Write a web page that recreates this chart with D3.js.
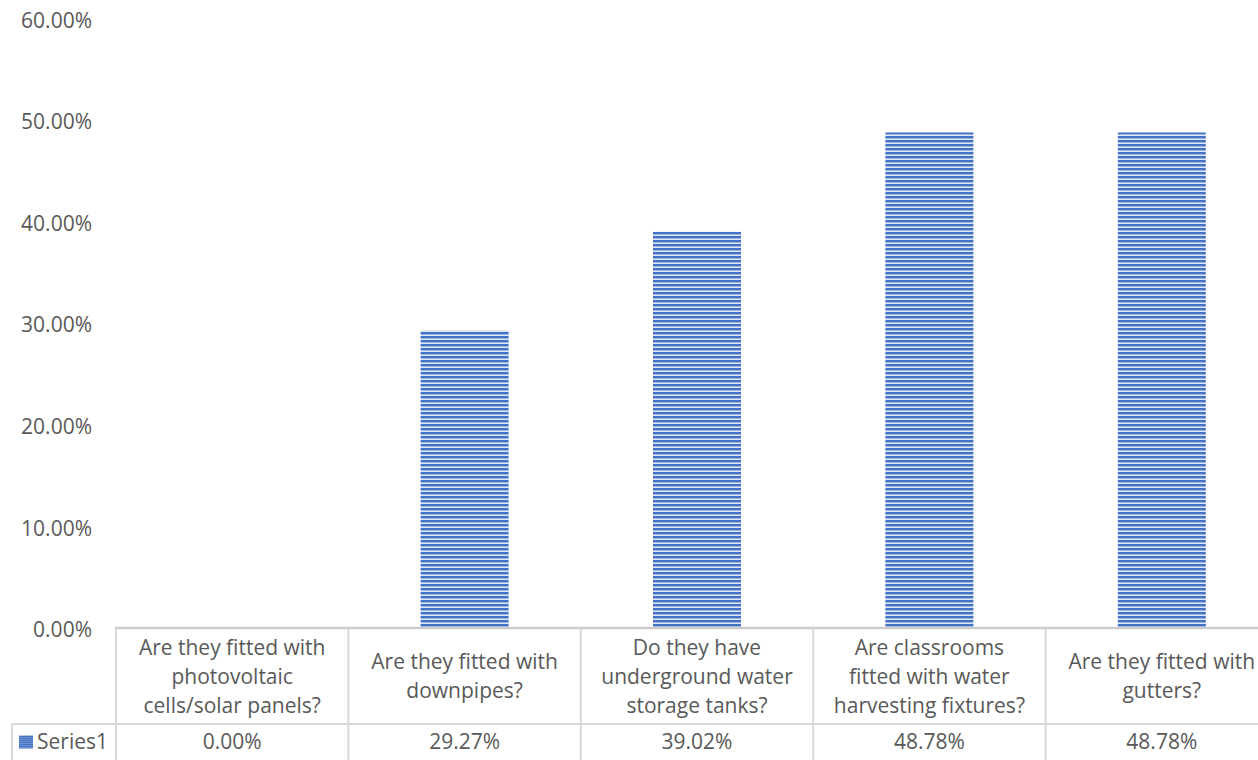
<!DOCTYPE html>
<html>
<head>
<meta charset="utf-8">
<script src="https://cdn.jsdelivr.net/npm/d3@7/dist/d3.min.js"></script>
<style>
  html, body { margin: 0; padding: 0; background: #ffffff; }
  svg { display: block; }
  text { font-family: "Open Sans", "Noto Sans", sans-serif; fill: #595959; }
</style>
</head>
<body>
<svg id="chart" width="1258" height="760"></svg>
<script>
// Survey questions (one per column), with the line breaks used in the data table header
const categories = [
  "Are they fitted with photovoltaic cells/solar panels?",
  "Are they fitted with downpipes?",
  "Do they have underground water storage tanks?",
  "Are classrooms fitted with water harvesting fixtures?",
  "Are they fitted with gutters?"
];
const headerLines = [
  ["Are they fitted with", "photovoltaic", "cells/solar panels?"],
  ["Are they fitted with", "downpipes?"],
  ["Do they have", "underground water", "storage tanks?"],
  ["Are classrooms", "fitted with water", "harvesting fixtures?"],
  ["Are they fitted with", "gutters?"]
];
const seriesName = "Series1";
const values = [0.0000, 0.2927, 0.3902, 0.4878, 0.4878];
const yTicks = [0, 0.1, 0.2, 0.3, 0.4, 0.5, 0.6];

const svg = d3.select("#chart");
const fmt = d3.format(".2%");
const fontSize = 21;

// Plot geometry
const plotLeft = 116, plotRight = 1278;
const baseY = 628, topY = 18.5;
const tableTop = 629, headerBottom = 724, tableBottom = 760;
const seriesCellLeft = 12;

const x = d3.scaleBand()
  .domain(categories)
  .range([plotLeft, plotRight])
  .paddingInner(0.6213)
  .paddingOuter(0.6213 / 2);

const y = d3.scaleLinear().domain([0, 0.6]).range([baseY, topY]);

// Striped fills for the bars and the legend key
const defs = svg.append("defs");
const pat = defs.append("pattern")
  .attr("id", "stripes")
  .attr("patternUnits", "userSpaceOnUse")
  .attr("width", 8).attr("height", 4);
pat.append("rect").attr("width", 8).attr("height", 4).attr("fill", "#dfe7f5");
pat.append("rect").attr("y", 0).attr("width", 8).attr("height", 2).attr("fill", "#4472c4");
pat.append("rect").attr("y", 2).attr("width", 8).attr("height", 1).attr("fill", "#9db5e2");

const keyPat = defs.append("pattern")
  .attr("id", "keyStripes")
  .attr("patternUnits", "userSpaceOnUse")
  .attr("width", 4).attr("height", 2);
keyPat.append("rect").attr("width", 4).attr("height", 2).attr("fill", "#6f92d2");
keyPat.append("rect").attr("width", 4).attr("height", 1).attr("fill", "#4472c4");

// Y axis labels (no axis line or gridlines)
const yAxis = d3.axisLeft(y)
  .tickValues(yTicks)
  .tickFormat(fmt)
  .tickSize(0)
  .tickPadding(0);
const yg = svg.append("g").attr("transform", "translate(92,2)").call(yAxis);
yg.select(".domain").remove();
yg.selectAll("text")
  .attr("font-size", fontSize)
  .style("font-family", '"Open Sans", "Noto Sans", sans-serif')
  .attr("fill", "#595959");

// Bars
svg.append("g").selectAll("rect")
  .data(values)
  .join("rect")
  .attr("x", (d, i) => x(categories[i]))
  .attr("width", x.bandwidth())
  .attr("y", d => y(d))
  .attr("height", d => baseY - y(d))
  .attr("fill", "url(#stripes)");

// Data table
const colStep = x.step();
const colLeft = i => plotLeft + i * colStep;
const grid = svg.append("g").attr("stroke", "#d9d9d9").attr("stroke-width", 2).attr("fill", "none");

// vertical cell borders
d3.range(categories.length + 1).forEach(i => {
  grid.append("line")
    .attr("x1", colLeft(i)).attr("x2", colLeft(i))
    .attr("y1", tableTop).attr("y2", tableBottom);
});
grid.append("line")
  .attr("x1", seriesCellLeft).attr("x2", seriesCellLeft)
  .attr("y1", headerBottom).attr("y2", tableBottom);
// header / data divider
grid.append("line")
  .attr("x1", seriesCellLeft).attr("x2", plotRight)
  .attr("y1", headerBottom).attr("y2", headerBottom);

// category axis line (top of table)
svg.append("line")
  .attr("x1", plotLeft - 1).attr("x2", plotRight)
  .attr("y1", baseY).attr("y2", baseY)
  .attr("stroke", "#cccccc").attr("stroke-width", 2.5);

// header text
const lineH = 29;
const headerMid = (tableTop + headerBottom) / 2;
const hdr = svg.append("g").selectAll("text")
  .data(headerLines)
  .join("text")
  .attr("text-anchor", "middle")
  .attr("font-size", fontSize);
hdr.each(function (lines, i) {
  const cx = x(categories[i]) + x.bandwidth() / 2;
  const y0 = headerMid - (lines.length - 1) * lineH / 2;
  d3.select(this).selectAll("tspan")
    .data(lines)
    .join("tspan")
    .attr("x", cx)
    .attr("y", (l, k) => y0 + k * lineH)
    .attr("dy", "0.35em")
    .text(l => l);
});

// value row
const rowMid = (headerBottom + tableBottom) / 2;
svg.append("g").selectAll("text")
  .data(values)
  .join("text")
  .attr("text-anchor", "middle")
  .attr("font-size", fontSize)
  .attr("x", (d, i) => x(categories[i]) + x.bandwidth() / 2)
  .attr("y", rowMid)
  .attr("dy", "0.35em")
  .text(d => fmt(d));

// legend key + series name
svg.append("rect")
  .attr("x", 19).attr("y", rowMid - 6.5)
  .attr("width", 14).attr("height", 13)
  .attr("fill", "url(#keyStripes)");
svg.append("text")
  .attr("x", 37).attr("y", rowMid)
  .attr("dy", "0.35em")
  .attr("font-size", fontSize)
  .text(seriesName);
</script>
</body>
</html>
